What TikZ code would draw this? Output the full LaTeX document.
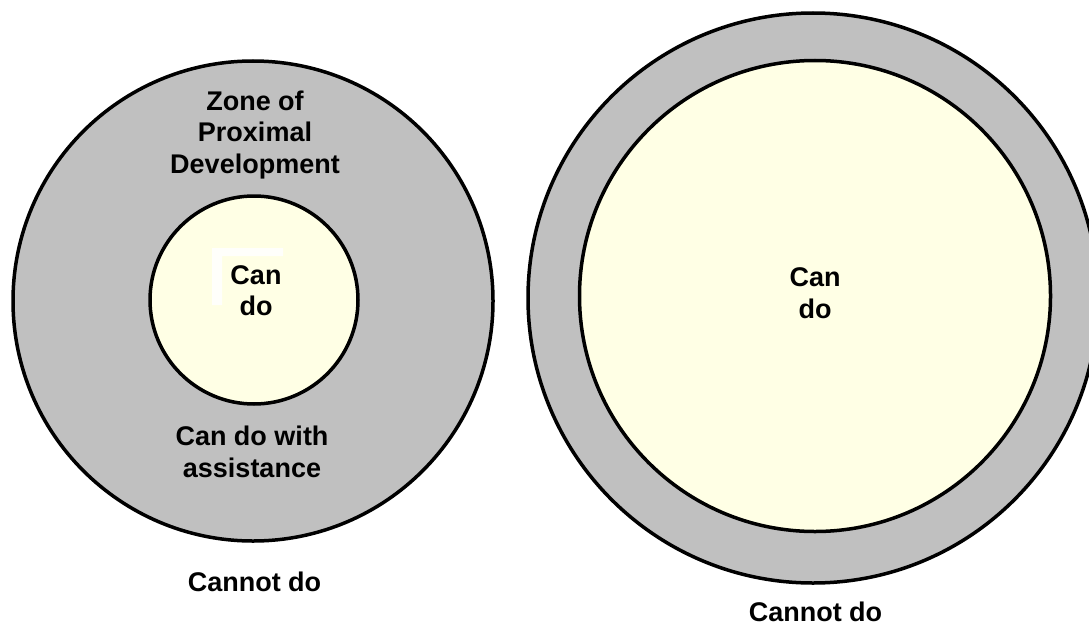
\documentclass[tikz,border=0pt]{standalone}
\usepackage{fontspec}
\setmainfont{Liberation Sans}
\definecolor{zonegray}{RGB}{192,192,192}
\definecolor{candofill}{RGB}{255,255,229}

\begin{document}
\begin{tikzpicture}[x=1pt,y=-1pt,
	ring/.style={circle,draw=black,line width=3.5pt,fill=zonegray,inner sep=0pt},
	core/.style={circle,draw=black,line width=3.5pt,fill=candofill,inner sep=0pt},
	lbl/.style={align=center,inner sep=0pt,font=\fontsize{27}{31.5}\selectfont\bfseries}]
	\useasboundingbox (0,0) rectangle (1089,626);
	% left: small core inside a wide zone
	\node[ring,minimum size=480pt] (outerL) at (253,301) {};
	\node[core,minimum size=208pt] (innerL) at (254,300) {};
	\fill[white,opacity=0.85] (212,248) -- (283,248) -- (283,256) -- (222,256) -- (222,305) -- (212,305) -- cycle;
	\node[lbl] (zoneL) at (255,134.6) {Zone of\\Proximal\\Development};
	\node[lbl] (candoL) at (256,290.5) {Can\\do};
	\node[lbl] (assistL) at (252,452) {Can do with\\assistance};
	\node[lbl] (cannotL) at (254.5,582) {Cannot do};
	% right: large core, thin zone
	\node[ring,minimum size=570pt] (outerR) at (813,298) {};
	\node[core,minimum size=471pt] (innerR) at (815,296) {};
	\node[lbl] (candoR) at (815,293.4) {Can\\do};
	\node[lbl] (cannotR) at (815.5,612) {Cannot do};
\end{tikzpicture}
\end{document}
